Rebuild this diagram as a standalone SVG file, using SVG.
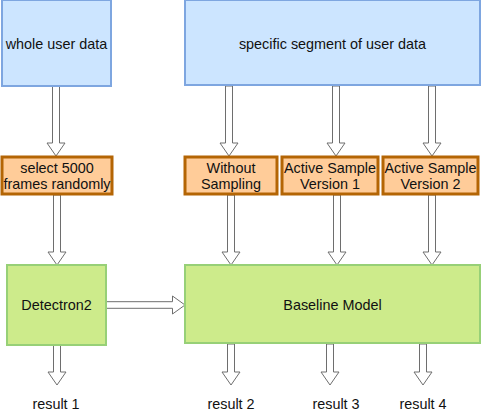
<svg xmlns="http://www.w3.org/2000/svg" width="482" height="413" viewBox="0 0 482 413">
<style>
.blue{fill:#cce5ff;stroke:#7ea6e0;stroke-width:2}
.orange{fill:#ffcc99;stroke:#b46504;stroke-width:3}
.green{fill:#cdeb8b;stroke:#97d077;stroke-width:2}
text{font-family:"Liberation Sans",Arial,sans-serif;font-size:14.4px;fill:#111111;text-anchor:middle}
.arr{fill:#ffffff;stroke:#6e6e6e;stroke-width:1}
</style>
<rect width="482" height="413" fill="#ffffff"/>
<g id="connectors">
<path class="arr" d="M52.5,86 V143 H47 L56,156 L65,143 H59.5 V86 Z"/>
<path class="arr" d="M225.5,86 V143 H220 L229,156 L238,143 H232.5 V86 Z"/>
<path class="arr" d="M332.5,86 V143 H327 L336,156 L345,143 H339.5 V86 Z"/>
<path class="arr" d="M428.5,86 V143 H423 L432,156 L441,143 H435.5 V86 Z"/>
<path class="arr" d="M53.5,195 V252 H48 L57,265 L66,252 H60.5 V195 Z"/>
<path class="arr" d="M227.5,195 V252 H222 L231,265 L240,252 H234.5 V195 Z"/>
<path class="arr" d="M333.5,195 V252 H328 L337,265 L346,252 H340.5 V195 Z"/>
<path class="arr" d="M428.5,195 V252 H423 L432,265 L441,252 H435.5 V195 Z"/>
<path class="arr" d="M106,301.7 H172.5 V296 L185,305 L172.5,314 V308.3 H106 Z"/>
<path class="arr" d="M53.5,345 V372 H48 L57,385 L66,372 H60.5 V345 Z"/>
<path class="arr" d="M227.5,344 V372 H222 L231,385 L240,372 H234.5 V344 Z"/>
<path class="arr" d="M326.5,344 V372 H321 L330,385 L339,372 H333.5 V344 Z"/>
<path class="arr" d="M419.5,344 V372 H414 L423,385 L432,372 H426.5 V344 Z"/>
</g>
<g id="whole-user-data">
<rect class="blue" x="2" y="0" width="109" height="86"/>
<text x="56.5" y="49">whole user data</text>
</g>
<g id="specific-segment">
<rect class="blue" x="185" y="0" width="295" height="85"/>
<text x="332.5" y="49">specific segment of user data</text>
</g>
<g id="select-5000">
<rect class="orange" x="2" y="157" width="110" height="37"/>
<text x="57" y="172.5">select 5000</text>
<text x="57" y="188.5">frames randomly</text>
</g>
<g id="without-sampling">
<rect class="orange" x="185" y="157" width="92" height="37"/>
<text x="231" y="172.5">Without</text>
<text x="231" y="188.5">Sampling</text>
</g>
<g id="active-1">
<rect class="orange" x="282" y="157" width="96" height="37"/>
<text x="330" y="172.5">Active Sample</text>
<text x="330" y="188.5">Version 1</text>
</g>
<g id="active-2">
<rect class="orange" x="383" y="157" width="95" height="37"/>
<text x="430.5" y="172.5">Active Sample</text>
<text x="430.5" y="188.5">Version 2</text>
</g>
<g id="detectron2">
<rect class="green" x="7" y="265" width="99" height="80"/>
<text x="56.5" y="310">Detectron2</text>
</g>
<g id="baseline-model">
<rect class="green" x="185" y="265" width="295" height="78"/>
<text x="332.5" y="310">Baseline Model</text>
</g>
<g id="results">
<text x="56" y="409">result 1</text>
<text x="231" y="409">result 2</text>
<text x="336" y="409">result 3</text>
<text x="423" y="409">result 4</text>
</g>
</svg>
